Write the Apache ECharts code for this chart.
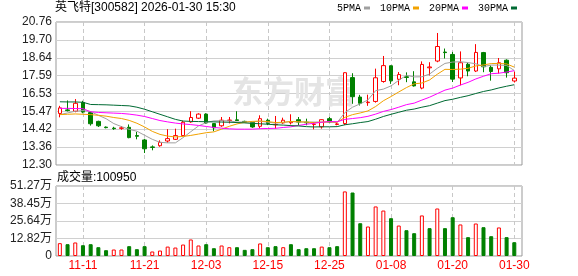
<!DOCTYPE html>
<html><head><meta charset="utf-8">
<script src="https://cdn.jsdelivr.net/npm/echarts@6/dist/echarts.min.js"></script>
<style>html,body{margin:0;padding:0;background:#fff}#c{width:578px;height:276px}</style>
</head><body><div id="c"></div>
<script>
const dates = ['11-06','11-07','11-10','11-11','11-12','11-13','11-14','11-17','11-18','11-19','11-20','11-21','11-24','11-25','11-26','11-27','11-28','12-01','12-02','12-03','12-04','12-05','12-08','12-09','12-10','12-11','12-12','12-15','12-16','12-17','12-18','12-19','12-22','12-23','12-24','12-25','12-26','12-29','12-30','12-31','01-05','01-06','01-07','01-08','01-09','01-12','01-13','01-14','01-15','01-16','01-19','01-20','01-21','01-22','01-23','01-26','01-27','01-28','01-29','01-30'];
const opens  = [15.35,15.56,15.48,16.00,15.40,14.88,14.54,14.48,14.47,14.53,14.04,13.78,13.37,13.44,13.72,13.82,14.04,14.85,15.07,15.31,14.75,14.62,14.93,14.97,14.88,14.82,14.59,14.95,14.68,14.79,14.80,14.98,14.83,14.70,14.56,15.04,14.70,14.75,17.47,16.32,15.99,16.06,17.24,18.17,17.37,17.52,17.22,16.85,18.05,18.45,18.98,18.84,17.45,18.26,17.86,18.95,18.08,17.99,18.50,17.27];
const closes = [15.68,15.52,15.95,15.43,14.74,14.62,14.51,14.45,14.50,13.92,14.00,13.26,13.34,13.64,13.86,14.04,14.83,15.11,15.31,14.79,14.50,14.95,14.96,14.93,14.84,14.55,15.04,14.76,14.70,14.95,14.87,14.84,14.80,14.72,14.98,14.84,14.73,17.76,16.34,15.95,16.02,17.46,18.18,17.28,17.65,17.48,16.98,18.25,18.10,19.31,18.95,17.38,18.35,17.86,18.96,18.11,17.83,18.35,17.76,17.44];
const lows   = [15.12,15.47,15.42,15.36,14.63,14.55,14.47,14.38,14.38,13.88,13.82,13.01,13.17,13.38,13.62,13.78,13.98,14.80,15.02,14.74,14.30,14.56,14.76,14.90,14.80,14.50,14.47,14.66,14.45,14.74,14.70,14.65,14.65,14.41,14.45,14.80,14.65,14.66,15.92,15.82,15.80,15.99,17.17,17.10,17.02,17.20,16.94,16.78,17.60,18.38,18.60,17.21,17.01,17.55,17.80,17.79,17.29,17.71,17.47,17.18];
const highs  = [15.80,16.12,16.20,16.10,15.49,14.92,14.58,14.56,14.60,14.70,14.26,13.85,13.46,13.76,14.42,14.45,14.92,15.48,15.36,15.36,14.78,15.14,15.14,15.48,14.92,14.85,15.24,15.04,15.20,15.10,15.30,15.14,15.04,14.84,15.00,15.14,14.84,17.78,17.73,16.45,16.46,18.00,18.75,18.19,17.80,17.78,17.85,18.43,18.38,20.11,19.19,18.99,19.02,18.39,19.45,18.99,18.20,18.63,18.55,17.82];
const volumes = [94000,86500,99000,79000,86500,64500,42500,47600,47600,72000,50000,72000,33000,40000,69000,62000,84000,121000,77000,86500,57000,77000,64500,64500,45000,50000,92000,64500,72000,64500,86500,50000,57000,57000,69000,64500,72000,473000,465000,240000,216000,363000,333000,277000,223000,189000,167000,297000,204000,348000,204000,284000,231000,138000,238000,211000,145000,209000,138000,100950];
const volUp = [1,0,1,0,0,0,0,1,1,0,0,0,1,1,1,1,1,1,1,0,0,1,1,0,0,0,1,0,0,1,0,0,0,0,1,0,0,1,0,0,1,1,1,0,1,0,0,1,0,1,0,0,1,0,1,0,0,1,0,0];
const ma5  = [15.28,15.38,15.48,15.52,15.46,15.24,15.04,14.75,14.57,14.41,14.30,14.06,13.82,13.64,13.61,13.61,13.92,14.27,14.61,14.81,14.91,14.92,14.91,14.84,14.85,14.85,14.89,14.83,14.78,14.81,14.88,14.84,14.84,14.84,14.84,14.84,14.81,15.40,15.72,15.92,16.15,16.70,16.79,16.98,17.31,17.61,17.51,17.52,17.68,18.02,18.31,18.39,18.41,18.36,18.29,18.12,18.21,18.21,18.19,17.89];
const ma10 = [15.28,15.30,15.32,15.30,15.28,15.24,15.19,15.11,15.05,14.94,14.77,14.55,14.29,14.11,14.01,13.96,13.99,14.05,14.13,14.21,14.26,14.42,14.59,14.73,14.83,14.88,14.90,14.87,14.81,14.83,14.87,14.86,14.84,14.81,14.83,14.86,14.83,15.12,15.28,15.38,15.50,15.76,16.10,16.35,16.62,16.88,17.10,17.15,17.33,17.67,17.96,17.95,17.97,18.02,18.16,18.22,18.30,18.31,18.28,18.09];
const ma20 = [15.65,15.65,15.64,15.63,15.45,15.41,15.39,15.37,15.35,15.31,15.25,15.17,15.05,14.93,14.85,14.78,14.73,14.69,14.64,14.58,14.52,14.48,14.44,14.42,14.42,14.42,14.45,14.46,14.47,14.52,14.56,14.64,14.71,14.77,14.83,14.87,14.86,15.00,15.05,15.10,15.18,15.31,15.47,15.58,15.72,15.87,15.96,16.14,16.31,16.52,16.73,16.85,17.03,17.19,17.39,17.55,17.70,17.73,17.80,17.88];
const ma30 = [16.04,16.03,16.03,16.01,15.88,15.87,15.86,15.84,15.82,15.80,15.72,15.60,15.45,15.30,15.15,15.00,14.90,14.88,14.87,14.86,14.85,14.84,14.83,14.81,14.79,14.76,14.74,14.71,14.68,14.66,14.63,14.61,14.57,14.55,14.56,14.56,14.57,14.68,14.74,14.81,14.87,15.01,15.17,15.30,15.42,15.54,15.61,15.72,15.81,15.96,16.11,16.19,16.30,16.40,16.53,16.65,16.74,16.86,16.96,17.05];
const priceTicks = [12.30,13.36,14.42,15.47,16.53,17.59,18.64,19.70,20.76];
const volTicks = [0,128175,256350,384525,512700];
const volTickLabels = ['0','12.82万','25.64万','38.45万','51.27万'];
const dateTickIdx = [3,11,19,27,35,43,51,59];

const UP = '#ff0000', DOWN = '#008000';
const SANS = '"Liberation Sans", "Noto Sans CJK SC", sans-serif';
const chart = echarts.init(document.getElementById('c'), null, {renderer: 'canvas'});

const candleData = dates.map((d, i) => [i, opens[i], closes[i], lows[i], highs[i]]);
const volData = dates.map((d, i) => ({
  value: [i, volumes[i]],
  itemStyle: volUp[i] ? {color: '#ffffff', borderColor: UP, borderWidth: 1} : {color: DOWN, borderColor: DOWN, borderWidth: 1}
}));
const maLine = (name, arr, color) => ({
  name, type: 'line', xAxisIndex: 0, yAxisIndex: 0,
  data: arr.map((v, i) => [i, v]), symbol: 'none', showSymbol: false,
  lineStyle: {color, width: 1}, itemStyle: {color}, silent: true, z: 3
});
const xBase = (showLabel) => ({
  type: 'value', min: -0.5, max: 60,
  axisLine: {show: false},
  axisTick: {show: false, customValues: dateTickIdx},
  axisLabel: {show: showLabel, customValues: dateTickIdx, formatter: v => dates[Math.round(v)],
    color: UP, fontSize: 12, fontFamily: SANS, margin: 4},
  splitLine: {show: true, lineStyle: {color: '#c8c8c8', type: [4, 3], width: 1}}
});

chart.setOption({
  animation: false,
  backgroundColor: '#ffffff',
  title: [
    {text: '英飞特[300582] 2026-01-30 15:30', left: 55, top: 2, padding: 0,
     textStyle: {fontSize: 12, fontWeight: 'normal', color: '#000', fontFamily: SANS}},
    {text: '成交量:100950', left: 57, top: 172, padding: 0,
     textStyle: {fontSize: 12, fontWeight: 'normal', color: '#000', fontFamily: SANS}}
  ],
  legend: {
    top: 3, left: 337, padding: 0, itemGap: 10, itemWidth: 6, itemHeight: 3, icon: 'rect', align: 'right',
    selectedMode: false,
    textStyle: {fontSize: 10, color: '#000', fontFamily: '"Liberation Mono", monospace', padding: [0, -2, 0, 0]},
    data: ['5PMA', '10PMA', '20PMA', '30PMA']
  },
  graphic: [{
    type: 'text', left: 232, top: 76, z: 1, silent: true,
    style: {text: '东方财富', fontSize: 31, fontWeight: 'bold', fill: '#e4e4e4', fontFamily: '"Noto Sans CJK SC", sans-serif'}
  }],
  grid: [
    {left: 56, top: 22, width: 466, height: 143, show: true, borderColor: '#999', borderWidth: 1, backgroundColor: 'transparent'},
    {left: 56, top: 186, width: 466, height: 70, show: true, borderColor: '#999', borderWidth: 1, backgroundColor: 'transparent'}
  ],
  xAxis: [
    Object.assign(xBase(false), {gridIndex: 0}),
    Object.assign(xBase(true), {gridIndex: 1})
  ],
  yAxis: [
    {gridIndex: 0, type: 'value', min: 12.30, max: 20.76,
     axisLine: {show: false}, axisTick: {show: false, customValues: priceTicks},
     axisLabel: {customValues: priceTicks, formatter: v => v.toFixed(2), fontSize: 12, color: '#222', fontFamily: SANS, margin: 4},
     splitLine: {show: true, lineStyle: {color: '#d0d0d0', width: 1}}},
    {gridIndex: 1, type: 'value', min: 0, max: 512700,
     axisLine: {show: false}, axisTick: {show: false, customValues: volTicks},
     axisLabel: {customValues: volTicks, formatter: v => volTickLabels[volTicks.indexOf(v)], fontSize: 12, color: '#222', fontFamily: SANS, margin: 4},
     splitLine: {show: true, lineStyle: {color: '#d0d0d0', width: 1}}}
  ],
  series: [
    {type: 'candlestick', name: 'K', xAxisIndex: 0, yAxisIndex: 0, data: candleData,
     encode: {x: 0, y: [1, 2, 3, 4]}, barWidth: 4, silent: true,
     itemStyle: {color: '#ffffff', color0: DOWN, borderColor: UP, borderColor0: DOWN, borderWidth: 1}},
    maLine('5PMA', ma5, '#a0a0a0'),
    maLine('10PMA', ma10, '#f2a200'),
    maLine('20PMA', ma20, '#ff00ff'),
    maLine('30PMA', ma30, '#006a33'),
    {type: 'bar', name: 'VOL', xAxisIndex: 1, yAxisIndex: 1, data: volData, barWidth: 4, silent: true}
  ]
});
</script></body></html>
